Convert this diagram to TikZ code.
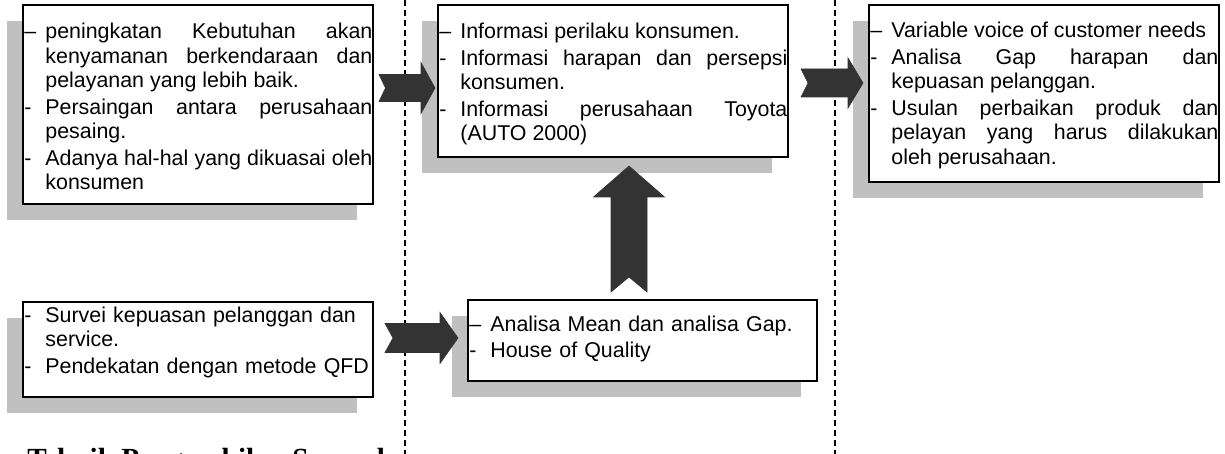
\documentclass[tikz,border=0pt]{standalone}
\usepackage{fontspec}
\usetikzlibrary{shadows}
\newfontfamily\arialtext{Liberation Sans}
\newfontfamily\timestext{Liberation Serif}
\definecolor{arrowgray}{HTML}{333333}
\definecolor{shadowgray}{HTML}{C0C0C0}
\hfuzz=20pt
\newcommand{\itm}[1][-]{\hangindent=10.5pt\hangafter=1\noindent\makebox[10.5pt][l]{#1}}
% tail, angle, length, head length, shaft half, head half, notch
\newcommand{\notcharrow}[7]{%
	\begin{scope}[shift={#1},rotate=#2]
		\filldraw[blockarrow] (0,-#5) -- (#3-#4,-#5) -- (#3-#4,-#6) -- (#3,0)
		-- (#3-#4,#6) -- (#3-#4,#5) -- (0,#5) -- (#7,0) -- cycle;
	\end{scope}}

\begin{document}
\begin{tikzpicture}[x=0.5pt,y=-0.5pt,
	infobox/.style={draw,line width=1pt,fill=white,inner sep=0pt,outer sep=0pt,anchor=north west,
		drop shadow={shadow xshift=-8pt,shadow yshift=-8pt,fill=shadowgray,opacity=1}},
	boxtext/.style={inner sep=0pt,text width=174pt,align=justify,anchor=base west,
		font=\arialtext\fontsize{10.7}{12.25}\selectfont},
	titletext/.style={inner sep=0pt,anchor=base west,font=\timestext\bfseries\fontsize{14.6}{17}\selectfont},
	blockarrow/.style={fill=arrowgray,draw=arrowgray,line width=0.3pt},
	divider/.style={line width=0.8pt,dash pattern=on 3pt off 2pt}]
	\useasboundingbox (0,0) rectangle (1225,454);
	
	% dashed separators
	\draw[divider] (405,0) -- (405,454);
	\draw[divider] (835,0) -- (835,454);
	
	% boxes
	\node[infobox,minimum width=175pt,minimum height=99.5pt] (b1) at (23,5) {};
	\node[infobox,minimum width=175pt,minimum height=76pt] (b2) at (438,5) {};
	\node[infobox,minimum width=175pt,minimum height=88.5pt] (b3) at (869,5) {};
	\node[infobox,minimum width=175pt,minimum height=47.5pt] (b4) at (23,302) {};
	\node[infobox,minimum width=174.5pt,minimum height=40.5pt] (b5) at (468,300) {};
	
	\node[boxtext] (t1) at ([shift={(1,34)}]b1.north west) {\parskip=1pt
		\itm[–]peningkatan~Kebutuhan~akan \linebreak kenyamanan~berkendaraan~dan \linebreak pelayanan~yang~lebih~baik.
		
		\itm Persaingan~antara~perusahaan \linebreak pesaing.
		
		\itm Adanya~\mbox{hal-hal}~yang~dikuasai~oleh \linebreak konsumen\par};
	\node[boxtext] (t2) at ([shift={(1,34)}]b2.north west) {\parskip=1pt
		\itm[–]Informasi~perilaku~konsumen.
		
		\itm Informasi~harapan~dan~persepsi \linebreak konsumen.
		
		\itm Informasi~perusahaan~Toyota \linebreak (AUTO~2000)\par};
	\node[boxtext] (t3) at ([shift={(1,33)}]b3.north west) {\parskip=1pt
		\itm[–]Variable~voice~of~customer~needs
		
		\itm Analisa~Gap~harapan~dan \linebreak kepuasan~pelanggan.
		
		\itm Usulan~perbaikan~produk~dan \linebreak pelayan~yang~harus~dilakukan \linebreak oleh~perusahaan.\par};
	\node[boxtext,align=left] (t4) at ([shift={(1,20)}]b4.north west) {\parskip=1pt
		\itm Survei~kepuasan~pelanggan~dan \newline service.
		
		\itm Pendekatan~dengan~metode~QFD\par};
	\node[boxtext,align=left] (t5) at ([shift={(1,31)}]b5.north west) {\parskip=1pt
		\itm[–]Analisa~Mean~dan~analisa~Gap.
		
		\itm House~of~Quality\par};
	
	% block arrows
	\coordinate (a1) at ([shift={(6,83)}]b1.north east);
	\coordinate (a2) at ([shift={(13,78)}]b2.north east);
	\coordinate (a3) at ([shift={(12,36)}]b4.north east);
	\coordinate (a4) at ([shift={(161,-8)}]b5.north west);
	\notcharrow{(a1)}{0}{56}{14}{13.5}{25.5}{6.5}
	\notcharrow{(a2)}{0}{62}{15}{14}{25}{7}
	\notcharrow{(a3)}{0}{73}{18}{14.5}{25.5}{8}
	\notcharrow{(a4)}{90}{126}{31}{18}{35.5}{15}
	
	\node[titletext] (ttl) at (27,468) {Teknik Pengambilan Sampel};
\end{tikzpicture}
\end{document}
